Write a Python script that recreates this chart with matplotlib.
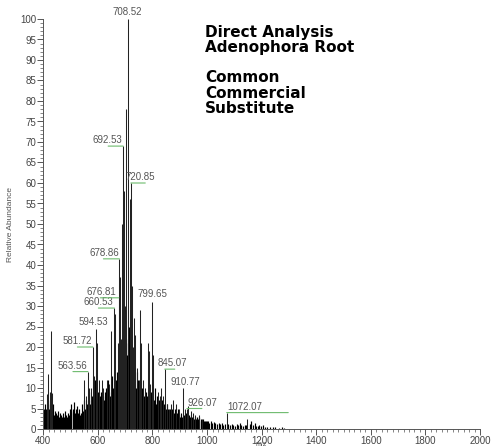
import matplotlib
matplotlib.use('Agg')
import matplotlib.pyplot as plt

# main peaks (m/z, relative abundance)
peak_mz = [414, 416, 426, 430, 433, 550, 556, 563.56, 568, 575, 581.72, 586, 594.53, 597,
           604, 614, 620, 633, 642, 649, 660.53, 664, 672, 676.81, 678.86, 680, 686, 690,
           692.53, 696, 700, 704.5, 708.52, 712, 716, 720.85, 724, 728, 733, 737, 742, 750,
           755, 758, 766, 772, 783, 786, 790, 799.65, 802, 820, 826, 832, 838, 845.07, 852,
           861, 867, 877, 887, 896, 910.77, 920, 926.07, 929, 941, 947, 957, 972, 982,
           1072.07, 1147]
peak_int = [8.5, 13.3, 9, 24, 8.9, 12, 8, 14, 10, 10, 20, 13, 24.5, 21,
            12, 12, 10, 12, 11, 24, 29.5, 28, 21, 32, 41.5, 37, 22, 50,
            69, 58, 30, 78, 100, 30, 56, 60, 35, 20, 27, 23, 15, 12,
            29, 21, 12, 10, 21, 19, 11, 31, 18, 9, 8, 10, 8, 14.6, 6,
            5, 6, 7, 6, 5, 10, 5, 5, 5.5, 4.5, 4, 3.5, 3.5, 2.5,
            4, 2.5]

# dense low-level ions
noise_mz = [401, 404, 408, 411, 418, 421, 425, 436, 439, 442, 445, 448, 451, 454, 458, 461,
            465, 468, 472, 476, 479, 483, 486, 490, 493, 497,
            500, 503, 507, 510, 514, 517, 521, 524, 528, 531, 535, 538, 542, 545, 548, 552,
            559, 562, 566, 571, 573, 578, 584, 589, 591,
            601, 607, 609, 611, 617, 623, 625, 629, 636, 639, 645, 651, 654, 657, 668, 670,
            674, 683, 688, 698, 702, 706, 710, 714, 718, 726, 730, 740, 745, 747, 752, 760,
            763, 769, 775, 778, 780, 793, 796, 806, 809, 812, 815,
            818, 823, 829, 835, 841, 843, 849, 855, 858, 864, 870, 873, 880, 884, 890, 893,
            899, 902, 905, 908, 914, 917, 923, 932, 935, 938, 944, 951, 954, 960, 963, 966,
            969, 976, 979, 985, 988, 992, 995, 998,
            1003, 1008, 1013, 1018, 1024, 1030, 1036, 1042, 1048, 1054, 1060, 1066, 1078,
            1084, 1090, 1096, 1102, 1108, 1114, 1120, 1126, 1132, 1138, 1144, 1156, 1162,
            1168, 1174, 1180, 1186, 1192, 1198, 1205, 1212, 1220, 1230, 1240, 1250, 1262,
            1275, 1283]
noise_int = [5, 4.5, 6, 5, 7, 5, 6, 6, 3.5, 4.5, 3, 4, 3.5, 4.5, 3, 4,
             3.5, 3, 4, 3, 4.5, 3.5, 3, 4, 3.5, 5,
             4.5, 6, 5, 4, 6.5, 4, 5, 5.5, 4, 5, 3.5, 4, 6, 4.5, 7, 5,
             6, 7, 9, 6, 7, 8, 9, 10, 12,
             9, 8, 7, 9, 8, 7, 9, 10, 12, 9, 8, 13, 10, 9, 12, 14,
             11, 16, 22, 14, 21, 18, 22, 25, 20, 15, 12, 10, 14, 12, 9, 8,
             10, 8, 9, 7, 8, 9, 8, 7, 10, 6, 8,
             6, 7, 6, 7, 5, 6, 5, 6, 5, 5, 4, 5, 4, 5, 4, 5,
             3.5, 3, 4, 3, 3.5, 3, 4, 3, 3.5, 3, 3, 2.5, 3, 2.5, 3, 2.5,
             3, 2.5, 2, 2.5, 2, 2, 2, 2,
             2, 1.5, 2, 1.5, 1.8, 1.5, 1.3, 1.5, 1.2, 1.4, 1, 1.3, 1.2,
             1, 1.3, 1, 0.8, 1.2, 1, 1.5, 1, 0.8, 1, 0.9, 1.2, 2,
             1, 1.5, 0.8, 0.7, 1, 0.8, 0.9, 0.6, 0.5, 0.5, 0.4, 0.4, 0.3,
             0.5, 0.3]

label_mz = [563.56, 581.72, 594.53, 660.53, 676.81, 678.86, 692.53, 708.52, 720.85,
            799.65, 845.07, 910.77, 926.07, 1072.07]
label_int = [14, 20, 24.5, 29.5, 32, 41.5, 69, 100, 60, 31, 14.6, 10, 5, 4]
# text offset (px) and green leader end (px) relative to the peak top
label_dx = [-16, -15.5, -3, -16, -17.5, -15, -16, 0, 9.5, 0, 7.6, 2.5, 15, 18]
label_dy = [1, 1, 2, 1, 1, 1, 1, 2, 1, 3, 1, 1.5, 1, 1]
leader_end = [-15, -15.5, 0, -16, -18.6, -16, -15, 0, 14.4, 0, 10, 0, 15, 61.5]

plt.rcParams['font.family'] = ['Liberation Sans', 'DejaVu Sans']
fig = plt.figure(figsize=(4.92, 4.48), dpi=100)
ax = fig.add_axes([43.3 / 492, 1 - 429 / 448, (480 - 43.3) / 492, 410 / 448])

ax.vlines(noise_mz, 0, noise_int, color='black', linewidth=0.85)
ax.vlines(peak_mz, 0, peak_int, color='#222222', linewidth=0.75)

px = 72 / 100  # points per pixel
for mz, h, dx, dy, le in zip(label_mz, label_int, label_dx, label_dy, leader_end):
    ax.annotate('%.2f' % mz, xy=(mz, h), xytext=(dx * px, dy * px), textcoords='offset points',
                ha='center', va='bottom', fontsize=7, color='#555555', annotation_clip=False)
    if le != 0:
        ax.annotate('', xy=(mz, h), xytext=(le * px, 0), textcoords='offset points',
                    arrowprops=dict(arrowstyle='-', color='#6dbb6d', lw=0.8,
                                    shrinkA=0, shrinkB=0), annotation_clip=False)

ax.set_xlim(400, 2000)
ax.set_ylim(0, 100)
ax.set_xticks(range(400, 2001, 200))
ax.set_xticks(range(400, 2001, 20), minor=True)
ax.set_yticks(range(0, 101, 5))
ax.set_yticks(range(0, 101, 1), minor=True)
ax.tick_params(which='major', length=4, width=0.7, color='#555555', labelsize=7,
               labelcolor='#444444', pad=1)
ax.tick_params(which='minor', length=2, width=0.5, color='#555555')
for s in ['top', 'right']:
    ax.spines[s].set_visible(False)
for s in ['left', 'bottom']:
    ax.spines[s].set_color('#555555')
    ax.spines[s].set_linewidth(0.7)

ax.set_ylabel('Relative Abundance', fontsize=6, color='#555555')
ax.yaxis.set_label_coords(-0.066, 0.5)
ax.set_xlabel('m/z', fontsize=5, color='#555555')
ax.xaxis.set_label_coords(0.5, -0.029)

title_lines = ['Direct Analysis', 'Adenophora Root', 'Common', 'Commercial', 'Substitute']
baselines = [37, 52, 82, 98, 113]
for t, b in zip(title_lines, baselines):
    fig.text(205 / 492, 1 - b / 448, t, fontsize=11, fontweight='bold', va='baseline',
             ha='left', family='DejaVu Sans', color='black')

fig.savefig('out.png', dpi=100)
